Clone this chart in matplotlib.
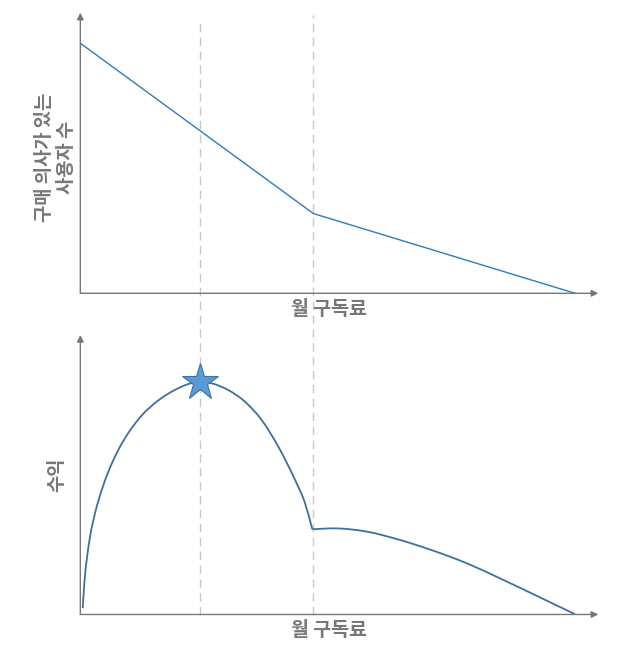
import matplotlib
matplotlib.use("Agg")
import numpy as np
import matplotlib.pyplot as plt
from matplotlib.lines import Line2D
from matplotlib.path import Path
from matplotlib.patches import PathPatch
from matplotlib.transforms import blended_transform_factory

plt.rcParams['font.family'] = ['Noto Sans CJK KR', 'DejaVu Sans']

# monthly price (x) -> users willing to buy (top) and revenue (bottom)
price_top = [0, 47.1, 100]
users = [100, 31.9, 0]

# revenue curve, two pieces (left hump up to the kink, right hump after it)
price_rev_a = [0.49, 0.81, 1.29, 1.96, 2.97, 4.33, 5.66, 7.68, 9.70, 12.41,
               15.77, 19.14, 21.83, 24.26, 26.56, 29.92, 33.29, 36.67, 40.02,
               43.40, 45.42, 46.90]
revenue_a = [2.7, 13.4, 23.4, 33.4, 43.5, 53.5, 61.3, 70.7, 78.0, 85.5,
             92.0, 96.5, 99.0, 100, 99.3, 96.4, 91.4, 83.5, 72.1,
             57.8, 47.8, 36.6]
price_rev_b = [46.90, 49.46, 51.14, 57.89, 64.63, 71.36, 78.11, 84.84,
               91.57, 100]
revenue_b = [36.6, 36.9, 37.0, 35.6, 32.0, 27.4, 22.0, 15.5, 8.7, 0.1]

best_price = 24.26
best_revenue = 100
kink_price = 47.1

x_label = "월 구독료"
y_label_top = "구매 의사가 있는\n사용자 수"
y_label_bottom = "수익"

gray = "#777777"


def smooth_path(xs, ys):
    # cubic Hermite through the read points (x as parameter), as Bezier segments
    x = np.asarray(xs, float)
    y = np.asarray(ys, float)
    h = np.diff(x)
    d = np.diff(y) / h
    m = np.empty_like(x)
    m[0], m[-1] = d[0], d[-1]
    m[1:-1] = (d[:-1] * h[1:] + d[1:] * h[:-1]) / (h[:-1] + h[1:])
    verts = [(x[0], y[0])]
    codes = [Path.MOVETO]
    for i in range(len(h)):
        verts += [(x[i] + h[i] / 3, y[i] + m[i] * h[i] / 3),
                  (x[i + 1] - h[i] / 3, y[i + 1] - m[i + 1] * h[i] / 3),
                  (x[i + 1], y[i + 1])]
        codes += [Path.CURVE4] * 3
    return Path(verts, codes)


fig = plt.figure(figsize=(6.3, 6.56), dpi=100)
ax1 = fig.add_axes([0.1275, 0.5529, 0.8222, 0.4277])
ax2 = fig.add_axes([0.1275, 0.0633, 0.8222, 0.4261])

for ax, ymax in ((ax1, 112.2), (ax2, 120.1)):
    ax.set_xlim(0, 104.7)
    ax.set_ylim(0, ymax)
    for s in ax.spines.values():
        s.set_visible(False)
    ax.set_xticks([])
    ax.set_yticks([])
    ax.patch.set_alpha(0)
    # axes with arrow heads
    ax.annotate("", xy=(1, 0), xytext=(0, 0), xycoords="axes fraction",
                arrowprops=dict(arrowstyle="-|>", color=gray, lw=1.0,
                                mutation_scale=10, shrinkA=0, shrinkB=0))
    ax.annotate("", xy=(0, 1), xytext=(0, 0), xycoords="axes fraction",
                arrowprops=dict(arrowstyle="-|>", color=gray, lw=1.0,
                                mutation_scale=10, shrinkA=0, shrinkB=0))
    ax.set_xlabel(x_label, fontsize=14, fontweight="bold", color=gray)
    ax.xaxis.set_label_coords(0.479, -0.056)
    ax.xaxis.label.set_va("center")

ax1.plot(price_top, users, color="#2e7bbf", lw=1.0)
for xs, ys in ((price_rev_a, revenue_a), (price_rev_b, revenue_b)):
    ax2.add_patch(PathPatch(smooth_path(xs, ys), facecolor="none",
                            edgecolor="#3f6f9f", lw=1.3))
ax2.plot([best_price], [best_revenue], marker="*", ms=28,
         markerfacecolor="#5b9bd5", markeredgecolor="#41719c",
         markeredgewidth=0.8, zorder=5, clip_on=False)

ax1.set_ylabel(y_label_top, fontsize=13.5, fontweight="bold", color=gray,
               linespacing=1.25)
ax1.yaxis.set_label_coords(-0.048, 0.486)
ax1.yaxis.label.set_va("center")
ax2.set_ylabel(y_label_bottom, fontsize=13.5, fontweight="bold", color=gray)
ax2.yaxis.set_label_coords(-0.045, 0.499)
ax2.yaxis.label.set_va("center")

# dashed guides running through both panels
tr = blended_transform_factory(ax1.transData, fig.transFigure)
for xv, ytop in ((best_price, 0.9695), (kink_price, 0.9771)):
    fig.add_artist(Line2D([xv, xv], [0.0625, ytop], transform=tr,
                          color="#c8c8c8", lw=1.0, ls=(0, (6, 4)), zorder=0))

fig.savefig("out.png", dpi=100)
